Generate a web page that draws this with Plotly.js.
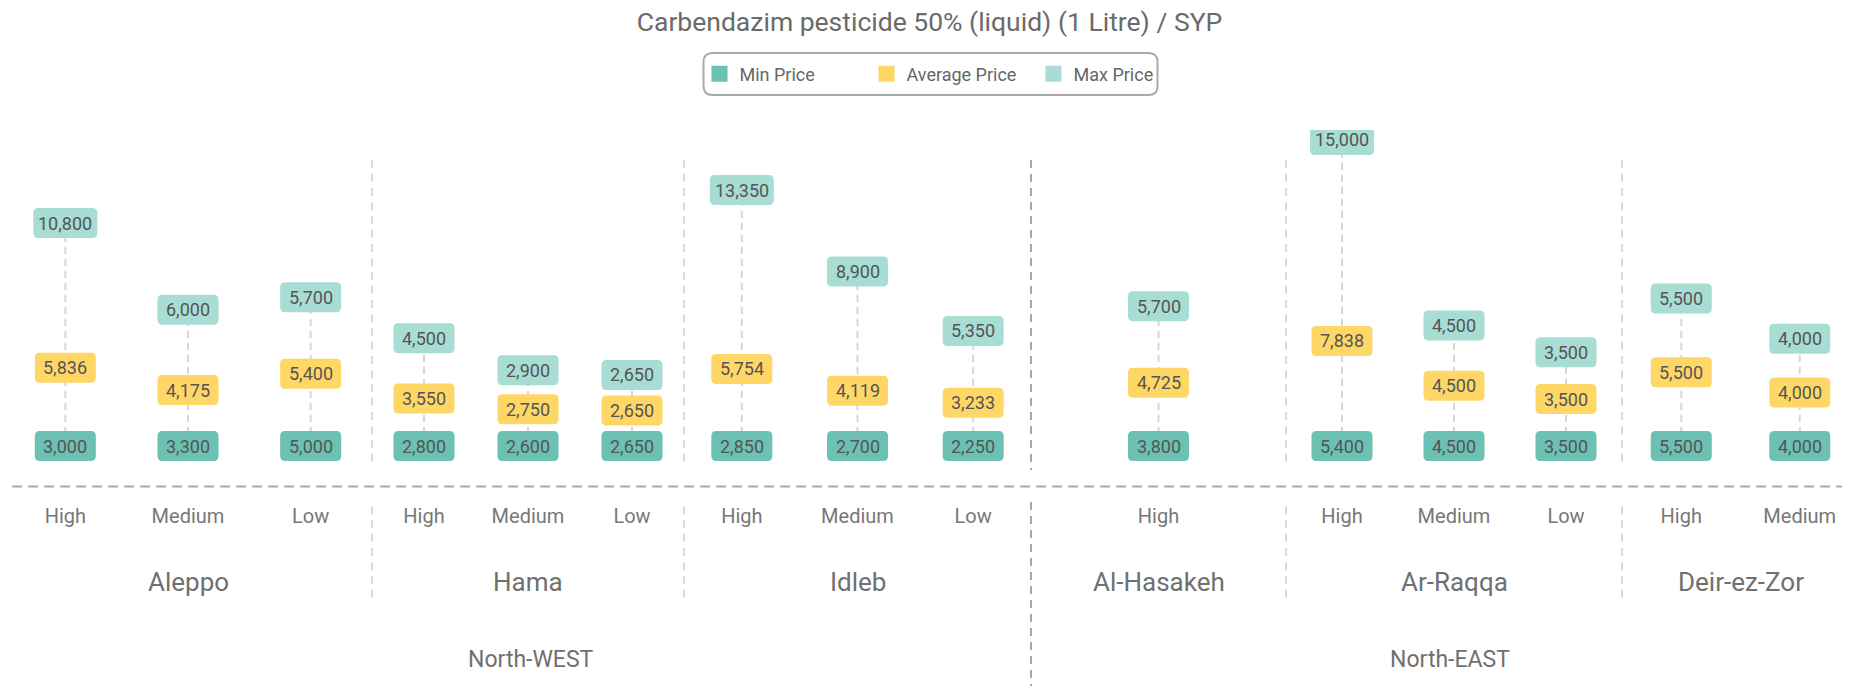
<!DOCTYPE html>
<html><head><meta charset="utf-8">
<script src="https://cdn.plot.ly/plotly-3.0.1.min.js"></script>
<style>html,body{margin:0;padding:0;background:#fff;}#chart{width:1859px;height:686px;}</style>
</head><body><div id="chart"></div>
<script>
// ---- data ----
const regions = ["North-WEST", "North-EAST"];
const governorates = ["Aleppo", "Hama", "Idleb", "Al-Hasakeh", "Ar-Raqqa", "Deir-ez-Zor"];
const governorateRegion = [0, 0, 0, 1, 1, 1];
const rowGovernorate = [0, 0, 0, 1, 1, 1, 2, 2, 2, 3, 4, 4, 4, 5, 5];
const rowLevel = ["High", "Medium", "Low", "High", "Medium", "Low", "High", "Medium", "Low", "High", "High", "Medium", "Low", "High", "Medium"];
const minPrice = [3000, 3300, 5000, 2800, 2600, 2650, 2850, 2700, 2250, 3800, 5400, 4500, 3500, 5500, 4000];
const avgPrice = [5836, 4175, 5400, 3550, 2750, 2650, 5754, 4119, 3233, 4725, 7838, 4500, 3500, 5500, 4000];
const maxPrice = [10800, 6000, 5700, 4500, 2900, 2650, 13350, 8900, 5350, 5700, 15000, 4500, 3500, 5500, 4000];
const seriesNames = ["Min Price", "Average Price", "Max Price"];

// ---- style ----
const W = 1859, H = 686, plotTop = 130, plotBottom = 486;
const colors = ["#6cc0b4", "#ffd766", "#a8ddd4"];
const FONT = "Roboto, 'Open Sans', sans-serif";
const textGrey = "#6b6b6b";
const K = 0.0134;               // px per SYP
const minRowPx = 446;
const yTop = (minRowPx - plotTop) / K, yBottom = -(plotBottom - minRowPx) / K;
const bounds = [4, 372, 684, 1031, 1286, 1622, 1859];
const py = p => (plotBottom - p) / (plotBottom - plotTop);   // pixel -> paper y
const pxX = p => p / W;

function axisName(g) { return g === 0 ? "x" : "x" + (g + 1); }
function layoutAxisName(g) { return g === 0 ? "xaxis" : "xaxis" + (g + 1); }
function rrect(hw, hh, r) {
  return `M ${-hw + r},${-hh} L ${hw - r},${-hh} Q ${hw},${-hh} ${hw},${-hh + r} L ${hw},${hh - r} Q ${hw},${hh} ${hw - r},${hh} ` +
         `L ${-hw + r},${hh} Q ${-hw},${hh} ${-hw},${hh - r} L ${-hw},${-hh + r} Q ${-hw},${-hh} ${-hw + r},${-hh} Z`;
}
const fmt = v => v.toLocaleString("en-US");

const traces = [], shapes = [], annotations = [];
const layout = {
  width: W, height: H,
  margin: { l: 0, r: 0, t: plotTop, b: H - plotBottom, pad: 0 },
  paper_bgcolor: "#fff", plot_bgcolor: "rgba(0,0,0,0)",
  font: { family: FONT, color: textGrey },
  title: { text: "Carbendazim pesticide 50% (liquid) (1 Litre) / SYP", font: { size: 26.5, color: "#6a6a6a", family: FONT },
           x: 0.5, xanchor: "center", y: 1 - 22 / H, yanchor: "middle", yref: "container" },
  showlegend: true,
  legend: { orientation: "h", x: pxX(950), xanchor: "center", y: py(74), yanchor: "middle",
            font: { size: 18, color: "#666", family: FONT }, bgcolor: "rgba(0,0,0,0)", borderwidth: 0,
            entrywidth: 122, itemwidth: 30 },
  yaxis: { range: [yBottom, yTop], visible: false, fixedrange: true, showgrid: false, zeroline: false },
  hovermode: false
};

// x axes, one per governorate
governorates.forEach((gname, g) => {
  const cats = rowLevel.filter((_, i) => rowGovernorate[i] === g);
  layout[layoutAxisName(g)] = {
    domain: [pxX(bounds[g]), pxX(bounds[g + 1])], anchor: "y", type: "category",
    categoryorder: "array", categoryarray: cats, range: [-0.5, cats.length - 0.5],
    showgrid: false, zeroline: false, showline: false, fixedrange: true,
    ticks: "outside", ticklen: 12, tickcolor: "rgba(0,0,0,0)",
    tickfont: { size: 20, color: "#777", family: FONT }
  };
  // connector lines
  const xs = [], ys = [];
  rowLevel.forEach((lv, i) => {
    if (rowGovernorate[i] !== g) return;
    xs.push(lv, lv, null); ys.push(0, avgPrice[i] + maxPrice[i], null);
  });
  traces.push({ type: "scatter", mode: "lines", x: xs, y: ys, xaxis: axisName(g), yaxis: "y",
                line: { color: "#d6d6d6", width: 2, dash: "7px,5px" }, showlegend: false, hoverinfo: "skip" });
  // governorate label
  annotations.push({ xref: axisName(g) + " domain", x: 0.5, yref: "paper", y: py(582), text: gname,
                     showarrow: false, font: { size: 26, color: "#707070", family: FONT }, xanchor: "center", yanchor: "middle" });
});

// legend entries
seriesNames.forEach((n, s) => {
  traces.push({ type: "scatter", mode: "markers", x: [null], y: [null], name: n,
                marker: { symbol: "square", size: 16, color: colors[s] }, hoverinfo: "skip" });
});

// label boxes: min pinned on baseline row, average and max stacked above it
rowLevel.forEach((lv, i) => {
  const g = rowGovernorate[i];
  const xr = axisName(g);
  const vals = [minPrice[i], avgPrice[i], maxPrice[i]];
  const ypos = [0, avgPrice[i], avgPrice[i] + maxPrice[i]];
  vals.forEach((v, s) => {
    const txt = fmt(v);
    const hw = txt.length > 5 ? 32 : 30.5;
    shapes.push({ type: "path", xref: xr, yref: "y", xsizemode: "pixel", ysizemode: "pixel",
                  xanchor: lv, yanchor: ypos[s], path: rrect(hw, 15, 5),
                  fillcolor: colors[s], line: { width: 0 }, layer: "above" });
    annotations.push({ xref: xr, yref: "y", x: lv, y: ypos[s], text: txt, showarrow: false,
                       font: { size: 18, color: "#555555", family: FONT }, xanchor: "center", yanchor: "middle" });
  });
});

// separators between governorates
[372, 684, 1286, 1622].forEach(xp => {
  shapes.push({ type: "line", xref: "paper", yref: "paper", x0: pxX(xp), x1: pxX(xp), y0: py(160), y1: py(466),
                line: { color: "#cfcfcf", width: 1.5, dash: "8px,6px" }, layer: "below" });
  shapes.push({ type: "line", xref: "paper", yref: "paper", x0: pxX(xp), x1: pxX(xp), y0: py(506), y1: py(600),
                line: { color: "#cfcfcf", width: 1.5, dash: "8px,6px" }, layer: "below" });
});
// separator between regions
shapes.push({ type: "line", xref: "paper", yref: "paper", x0: pxX(1031), x1: pxX(1031), y0: py(160), y1: py(470),
              line: { color: "#a8a8a8", width: 2, dash: "8px,6px" }, layer: "below" });
shapes.push({ type: "line", xref: "paper", yref: "paper", x0: pxX(1031), x1: pxX(1031), y0: py(502), y1: py(686),
              line: { color: "#a8a8a8", width: 2, dash: "8px,6px" }, layer: "below" });
// baseline
shapes.push({ type: "line", xref: "paper", yref: "paper", x0: pxX(12), x1: pxX(1842), y0: py(486.5), y1: py(486.5),
              line: { color: "#aaaaaa", width: 2, dash: "10px,6px" }, layer: "below" });
// legend frame
shapes.push({ type: "path", xref: "paper", yref: "paper", xsizemode: "pixel", ysizemode: "pixel",
              xanchor: pxX(930.5), yanchor: py(74), path: rrect(227, 21, 9),
              fillcolor: "rgba(0,0,0,0)", line: { color: "#aaaaaa", width: 2 }, layer: "below" });

// region labels
const regionCenters = [531, 1450];
regions.forEach((r, k) => {
  annotations.push({ xref: "paper", x: pxX(regionCenters[k]), yref: "paper", y: py(659), text: r, showarrow: false,
                     font: { size: 23, color: "#707070", family: FONT }, xanchor: "center", yanchor: "middle" });
});

layout.shapes = shapes;
layout.annotations = annotations;
Plotly.newPlot("chart", traces, layout, { displayModeBar: false, staticPlot: true });
</script>
</body></html>
